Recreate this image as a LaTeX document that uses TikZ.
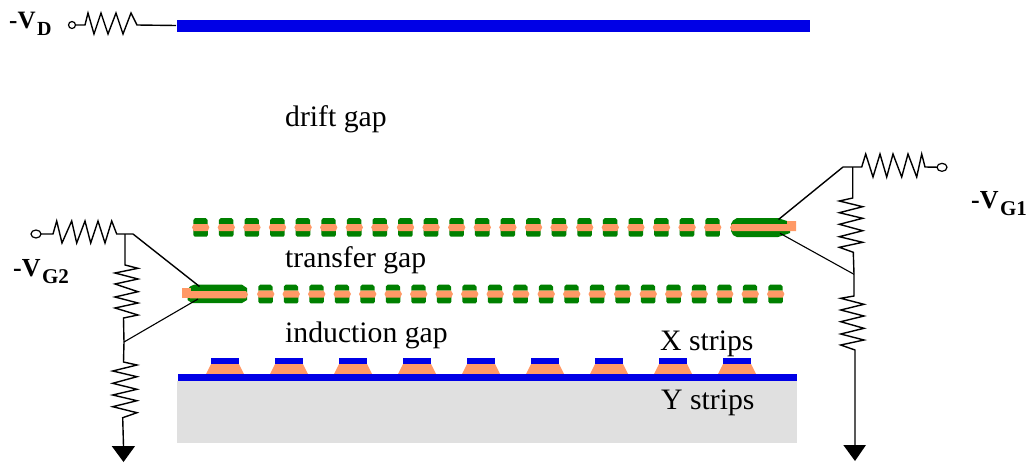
\documentclass[tikz,border=0pt]{standalone}
\usepackage{fontspec}
\usetikzlibrary{shapes.geometric}
\setmainfont{Liberation Serif}
\definecolor{gemgreen}{HTML}{008000}
\definecolor{gemorange}{HTML}{FF9966}
\definecolor{stripblue}{HTML}{0000E6}
\definecolor{basegray}{HTML}{E0E0E0}
% one GEM hole pitch: green lobes and orange core; args: left x, top y
\newcommand{\gemcell}[2]{%
  \fill[gemgreen] (#1+0.6,#2+6) -- (#1+0.6,#2+2) -- (#1+2.5,#2) -- (#1+13,#2) -- (#1+15,#2+2) -- (#1+15,#2+6) -- cycle;
  \fill[gemgreen] (#1+0.6,#2+12) -- (#1+15.2,#2+12) -- (#1+15.2,#2+17) -- (#1+14,#2+18.6) -- (#1+2,#2+18.6) -- (#1+0.6,#2+17) -- cycle;
  \fill[gemorange] (#1-0.7,#2+9.3) -- (#1+1,#2+6) -- (#1+15,#2+6) -- (#1+16.7,#2+9.3) -- (#1+15,#2+13) -- (#1+1,#2+13) -- cycle;
}
\newcommand{\stripcell}[1]{%
  \fill[gemorange] (#1-19,374) -- (#1-14,364) -- (#1+14,364) -- (#1+19,374) -- cycle;
  \fill[stripblue] (#1-14,358) rectangle (#1+14,364);
}
\tikzset{
  wire/.style={black,line width=1.4pt,line join=miter},
  thinwire/.style={black,line width=1.1pt},
  term/.style={draw=black,line width=1.2pt,fill=white},
  gaplabel/.style={anchor=base west,inner sep=0pt,font=\fontsize{29.7}{31}\selectfont},
  vlabel/.style={anchor=base west,inner sep=0pt,font=\bfseries\fontsize{26}{28}\selectfont},
  groundtip/.style={fill=black}
}
\newcommand{\vsub}[1]{\kern1.5pt\raisebox{-7.5pt}{\fontsize{21}{23}\selectfont #1}}
\begin{document}
\begin{tikzpicture}[x=1pt,y=-1pt]
\useasboundingbox (0,0) rectangle (1034,464);
% substrate and strips
\fill[basegray] (177,381) rectangle (797,443);
\foreach \c in {225,289,353,417,481,545,609,673,737} {\stripcell{\c}}
\fill[stripblue] (178,374) rectangle (797,381);
% drift electrode
\fill[stripblue] (176.5,20) rectangle (810,32);
% upper GEM
\foreach \i in {0,...,20} {\pgfmathsetmacro{\xx}{192.7+25.6*\i}\gemcell{\xx}{218}}
\fill[gemgreen] (731,224) -- (733,220.5) -- (737,218) -- (778,218) -- (790,222) -- (790,233) -- (778,237) -- (737,237) -- (733,235) -- (731,231) -- cycle;
\fill[gemorange] (730,227.5) -- (732,224) -- (787,224) -- (787,221) -- (796,221) -- (796,231) -- (732,231) -- cycle;
% lower GEM
\foreach \i in {0,...,20} {\pgfmathsetmacro{\xx}{257.7+25.5*\i}\gemcell{\xx}{284.7}}
\fill[gemgreen] (187.5,290) -- (190,286.5) -- (194,284.7) -- (242,284.7) -- (247,288) -- (247,300) -- (242,303) -- (192,303) -- (187.5,300) -- cycle;
\fill[gemorange] (182,288) rectangle (191,298.3);
\fill[gemorange] (190,291) -- (246,291) -- (248,294.5) -- (246,298.3) -- (190,298.3) -- cycle;
% circuit coordinates
\coordinate (dterm) at (72,25);
\coordinate (delec) at (176,25.5);
\coordinate (g2term) at (36,234);
\coordinate (g2node) at (125,234);
\coordinate (g2end) at (133,234);
\coordinate (g2mid) at (124,342);
\coordinate (g2top) at (199.5,286.5);
\coordinate (g2bot) at (198,299);
\coordinate (g1term) at (942,167.3);
\coordinate (g1node) at (852.7,167);
\coordinate (g1end) at (843,167);
\coordinate (g1mid) at (854,274.3);
\coordinate (g1top) at (778.5,219.5);
\coordinate (g1bot) at (780,233.3);
\coordinate (g2gnd) at (123.5,446);
\coordinate (g1gnd) at (855,445);
% drift resistor
\draw[wire] (dterm) -- (85,25) -- (88,13) -- (94,34) -- (101,13) -- (108,34) -- (116,13) -- (123,34) -- (131,13) -- (137,25) -- (delec);
\node[term,circle,minimum size=7pt,inner sep=0pt] (dt) at (dterm) {};
% G2 network
\draw[wire] (g2term) -- (53,234) -- (56.7,221) -- (62,243) -- (71.7,221) -- (76.7,243) -- (85,221) -- (90.7,243) -- (98,221) -- (105,243) -- (111.7,221) -- (116.7,234) -- (g2end);
\draw[wire] (g2node) -- (125,265) -- (138,268.3) -- (115,273) -- (138,279) -- (115,284) -- (138,291.7) -- (115,297) -- (138,303) -- (115,308) -- (138,315) -- (123.5,318) -- (g2mid) -- (123.5,362) -- (137,365) -- (112.7,371) -- (137,376.7) -- (112.7,383.3) -- (137,389.3) -- (112.7,395) -- (137,400.7) -- (112.7,406.7) -- (137,412.7) -- (122.7,417.7) -- (g2gnd);
\draw[wire] (g2end) -- (g2top);
\draw[thinwire] (g2mid) -- (g2bot);
\node[term,ellipse,minimum width=10pt,minimum height=8pt,inner sep=0pt] (g2t) at (g2term) {};
\fill[groundtip] (g2gnd) ++(-11.8,0) -- ++(23.4,0) -- (123.5,462) -- cycle;
% G1 network
\draw[wire] (g1term) -- (925,167) -- (921.7,154) -- (916.7,177) -- (908,154) -- (901.7,177) -- (893,154) -- (886.7,177) -- (880,154) -- (873,177) -- (865.7,154) -- (861.7,167) -- (g1end);
\draw[wire] (g1node) -- (852.7,198) -- (839.3,201) -- (862.7,206.7) -- (839.3,212.7) -- (862.7,218.3) -- (839.3,224.3) -- (862.7,230.7) -- (839.3,236.7) -- (862.7,242.3) -- (839.3,247.3) -- (853.3,252.3) -- (g1mid) -- (854,296) -- (840.7,298.3) -- (864,304.3) -- (840.7,310) -- (864,316) -- (840.7,321.7) -- (864,328.3) -- (840.7,334) -- (864,340) -- (840.7,345) -- (855,350) -- (g1gnd);
\draw[wire] (g1end) -- (g1top);
\draw[thinwire] (g1mid) -- (g1bot);
\node[term,ellipse,minimum width=10pt,minimum height=8pt,inner sep=0pt] (g1t) at (g1term) {};
\fill[groundtip] (843.3,445) -- (866,445) -- (855,461) -- cycle;
% labels
\node[gaplabel] (drift) at (285,126) {drift gap};
\node[gaplabel] (transfer) at (285,267) {transfer gap};
\node[gaplabel] (induction) at (285,342) {induction gap};
\node[gaplabel] (xs) at (660,350) {X strips};
\node[gaplabel] (ys) at (661,409) {Y strips};
\node[vlabel,font=\bfseries\fontsize{25}{27}\selectfont] (vd) at (9,28) {-V\vsub{\fontsize{20}{22}\selectfont D}};
\node[vlabel] (vg2) at (13,276) {-V\vsub{G2}};
\node[vlabel] (vg1) at (971,208) {-V\vsub{G1}};
\end{tikzpicture}
\end{document}
